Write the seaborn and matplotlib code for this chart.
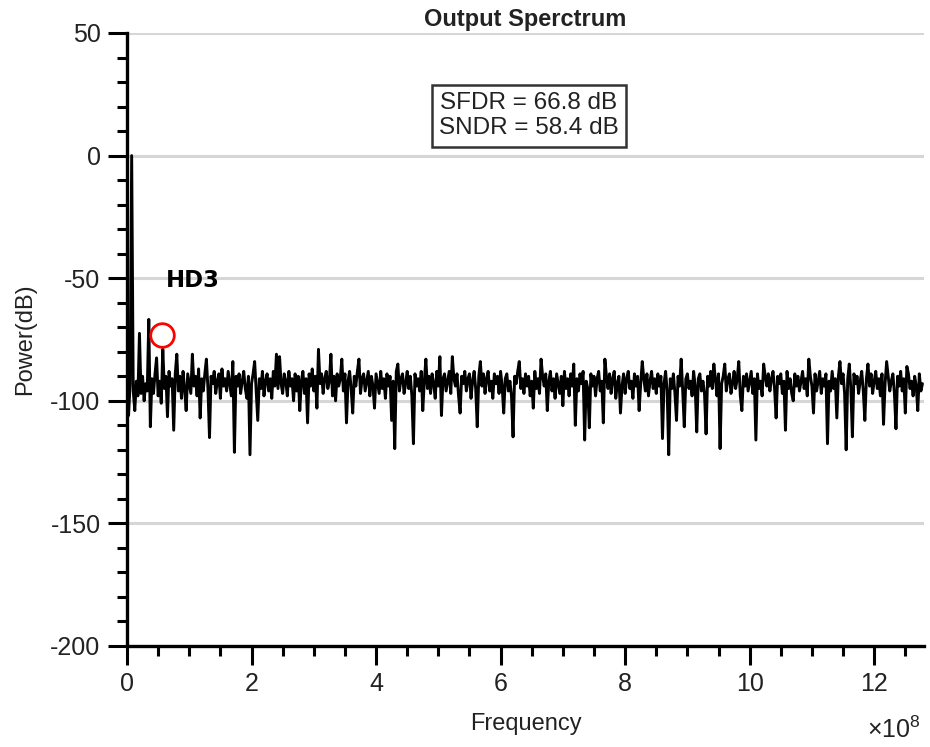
import numpy as np
import pandas as pd
import matplotlib
matplotlib.use("Agg")
import matplotlib.pyplot as plt
from matplotlib.ticker import MultipleLocator
import seaborn as sns

# ---------------- data ----------------
bin_step_hz = 2.5e6
power_db = [
    -95, -106, -93, 0, -96, -104, -92, -98, -72.5, -97, -90, -100, -93, -96, -66.8, -110.6,
    -91, -97, -89, -82.5, -98, -92, -101, -79, -95, -90, -106.5, -88, -94, -91, -112, -89,
    -81, -96, -90, -99, -88, -95, -104, -89, -93, -97, -81, -94, -90, -98, -87, -107,
    -91, -96, -89, -83, -95, -115, -90, -93, -88, -97, -92, -89, -99, -87, -94, -91,
    -96, -88, -93, -98, -84, -121, -90, -94, -89, -97, -92, -88, -95, -99, -90, -122,
    -93, -89, -84, -96, -108, -91, -95, -88, -98, -92, -89, -96, -91, -99, -88, -94,
    -81, -95, -82, -93, -97, -89, -92, -98, -88, -94, -91, -100, -89, -96, -90, -104,
    -92, -88, -97, -91, -109, -89, -94, -87, -96, -90, -103, -79, -93, -89, -97, -91,
    -88, -95, -92, -81, -98, -90, -100, -89, -94, -91, -83, -96, -89, -109, -92, -88,
    -95, -105, -90, -94, -88, -83, -97, -91, -89, -96, -92, -88, -98, -90, -94, -103,
    -89, -93, -97, -88, -95, -91, -99, -89, -94, -90, -108, -92, -119.5, -88, -85, -96,
    -91, -89, -97, -93, -88, -95, -90, -98, -117.5, -89, -94, -91, -96, -88, -104, -92,
    -83, -95, -90, -97, -89, -93, -99, -88, -94, -82, -106, -91, -89, -96, -92, -88,
    -97, -82, -91, -94, -89, -98, -105, -90, -93, -88, -96, -91, -89, -99, -92, -88,
    -95, -110.6, -90, -84, -94, -89, -97, -91, -88, -96, -92, -99, -89, -93, -90, -97,
    -88, -94, -105, -91, -89, -96, -92, -98, -114.7, -90, -93, -88, -84, -95, -91, -97,
    -89, -94, -90, -98, -92, -103, -88, -95, -91, -97, -83, -90, -94, -89, -104, -92,
    -88, -96, -91, -99, -89, -93, -97, -90, -102, -88, -95, -91, -98, -89, -94, -85,
    -110, -91, -96, -89, -93, -88, -116, -92, -95, -111, -89, -94, -90, -98, -91, -88,
    -96, -92, -109, -83, -90, -95, -89, -97, -91, -88, -99, -93, -90, -105, -94, -89,
    -97, -91, -88, -95, -92, -99, -89, -94, -90, -104, -93, -84, -91, -96, -89, -98,
    -92, -88, -95, -91, -97, -89, -94, -90, -115.4, -93, -88, -96, -122, -91, -95, -89,
    -97, -108, -90, -94, -83, -96, -110.6, -91, -89, -95, -92, -98, -88, -94, -112.7, -91,
    -89, -96, -92, -97, -113.5, -90, -94, -88, -95, -85, -91, -98, -89, -119.5, -93, -90,
    -85, -96, -91, -89, -97, -93, -88, -95, -91, -84, -98, -104, -90, -94, -89, -96,
    -92, -88, -97, -91, -116, -89, -95, -92, -98, -85, -90, -94, -89, -96, -91, -88,
    -95, -107, -90, -93, -89, -97, -92, -112, -88, -95, -91, -97, -100, -89, -94, -90,
    -96, -92, -88, -95, -91, -98, -83, -90, -94, -105, -89, -96, -92, -88, -97, -91,
    -94, -89, -117.5, -92, -96, -88, -95, -91, -107, -90, -84, -93, -89, -97, -120, -91,
    -85, -95, -114.7, -89, -93, -90, -97, -92, -88, -96, -108, -91, -85, -94, -89, -97,
    -92, -88, -95, -91, -98, -89, -109.6, -93, -84, -90, -96, -92, -89, -97, -111.4, -90,
    -94, -88, -96, -91, -105, -86, -89, -95, -92, -98, -90, -94, -104, -89, -96, -93,
]
frequency_hz = np.arange(len(power_db)) * bin_step_hz

x_tick_values = [0, 2e8, 4e8, 6e8, 8e8, 10e8, 12e8]
x_tick_labels = ["0", "2", "4", "6", "8", "10", "12"]
y_tick_values = [-200, -150, -100, -50, 0, 50]

title_text = "Output Sperctrum"
box_text = "SFDR = 66.8 dB\nSNDR = 58.4 dB"
hd3_label = "HD3"
hd3_mark = (0.56e8, -73)
hd3_label_pos = (0.62e8, -51)

df = pd.DataFrame({"Frequency": frequency_hz, "Power": power_db})

# ---------------- figure ----------------
sns.set_style("white")
plt.rcParams["font.family"] = ["Liberation Sans", "DejaVu Sans"]
plt.rcParams["mathtext.fontset"] = "custom"
plt.rcParams["mathtext.rm"] = "Liberation Sans"
plt.rcParams["axes.unicode_minus"] = False

fig = plt.figure(figsize=(9.3, 7.47), dpi=100)
ax = fig.add_axes([127 / 930, 1 - 646 / 747, (924 - 127) / 930, (646 - 33) / 747])

for yv in y_tick_values[1:]:
    ax.axhline(yv, color="#d6d6d6", lw=2.2, zorder=0)

sns.lineplot(data=df, x="Frequency", y="Power", color="black", lw=2.1,
             ax=ax, estimator=None, sort=False, zorder=3)

ax.set_xlim(0, 1.28e9)
ax.set_ylim(-200, 50)
ax.set_xticks(x_tick_values)
ax.set_xticklabels(x_tick_labels)
ax.set_yticks(y_tick_values)
ax.xaxis.set_minor_locator(MultipleLocator(0.5e8))
ax.yaxis.set_minor_locator(MultipleLocator(10))

for side in ["top", "right"]:
    ax.spines[side].set_visible(False)
for side in ["left", "bottom"]:
    ax.spines[side].set_color("black")
    ax.spines[side].set_linewidth(2.4)

ax.tick_params(axis="both", which="both", bottom=True, left=True)
ax.tick_params(axis="both", which="major", direction="out", length=14, width=2.2,
               color="black", labelsize=18, labelcolor="#222222", pad=5)
ax.tick_params(axis="both", which="minor", direction="out", length=7, width=2.2,
               color="black")

ax.set_xlabel("Frequency", fontsize=17, color="#222222", labelpad=12)
ax.set_ylabel("Power(dB)", fontsize=17, color="#222222", labelpad=10)
ax.set_title(title_text, fontsize=17, fontweight="bold", color="#222222", pad=5)

ax.text(0.504, 0.865, box_text, transform=ax.transAxes, ha="center", va="center",
        fontsize=17.5, color="#222222", linespacing=1.2,
        bbox=dict(boxstyle="square,pad=0.3", fc="white", ec="#333333", lw=1.8),
        zorder=5)

ax.text(hd3_label_pos[0], hd3_label_pos[1], hd3_label, ha="left", va="center",
        fontsize=16.5, fontweight="bold", color="black", family=["DejaVu Sans"], zorder=6)
ax.plot([hd3_mark[0]], [hd3_mark[1]], marker="o", ms=17, mfc="none", mec="red",
        mew=2.0, ls="none", zorder=6)

fig.text(921 / 930, 1 - 743 / 747, r"$\times\mathregular{10^{8}}$", ha="right",
         va="bottom", fontsize=18, color="#222222")

fig.savefig("out.png", dpi=100)
